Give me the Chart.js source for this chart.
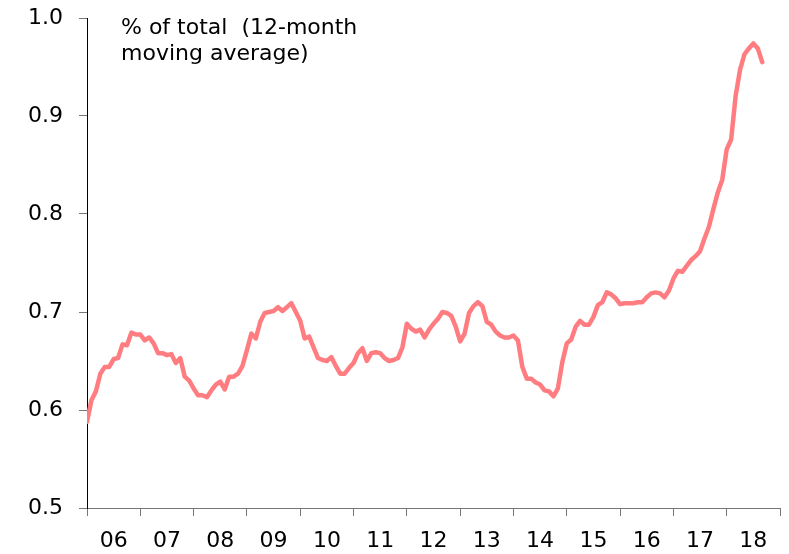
<!DOCTYPE html>
<html>
<head>
<meta charset="utf-8">
<script src="https://cdn.jsdelivr.net/npm/chart.js@4/dist/chart.umd.min.js"></script>
<style>
    body { margin: 0; background: #fff; }
    #wrap { position: relative; width: 789px; height: 554px; }
    #note {
        position: absolute; left: 121px; top: 14px;
        font-family: "DejaVu Sans"; font-size: 22px; line-height: 26px;
        color: #000; white-space: pre;
    }
</style>
</head>
<body>
<div id="wrap">
    <canvas id="chart" width="789" height="554"></canvas>
    <div id="note">% of total  (12-month
moving average)</div>
</div>
<script>
// monthly values, Jan 2006 onwards
const values = [
    0.588, 0.610, 0.619, 0.637, 0.644, 0.644, 0.652, 0.653, 0.667, 0.666, 0.679, 0.677,
    0.677, 0.671, 0.674, 0.668, 0.658, 0.658, 0.656, 0.657, 0.648, 0.653, 0.634, 0.630,
    0.622, 0.615, 0.615, 0.613, 0.620, 0.626, 0.629, 0.621, 0.634, 0.634, 0.637, 0.645,
    0.661, 0.678, 0.673, 0.690, 0.699, 0.700, 0.701, 0.705, 0.701, 0.705, 0.709, 0.700,
    0.691, 0.673, 0.675, 0.664, 0.653, 0.651, 0.650, 0.654, 0.645, 0.637, 0.637, 0.643,
    0.648, 0.658, 0.663, 0.650, 0.658, 0.659, 0.658, 0.653, 0.650, 0.651, 0.653, 0.664,
    0.688, 0.683, 0.680, 0.682, 0.674, 0.682, 0.688, 0.693, 0.700, 0.699, 0.696, 0.685,
    0.670, 0.678, 0.699, 0.706, 0.710, 0.706, 0.690, 0.687, 0.680, 0.676, 0.674, 0.674,
    0.676, 0.671, 0.644, 0.632, 0.632, 0.628, 0.626, 0.620, 0.619, 0.614, 0.622, 0.649,
    0.668, 0.672, 0.685, 0.691, 0.687, 0.687, 0.695, 0.707, 0.710, 0.720, 0.718, 0.714,
    0.708, 0.709, 0.709, 0.709, 0.710, 0.710, 0.715, 0.719, 0.720, 0.719, 0.715, 0.722,
    0.734, 0.742, 0.741, 0.747, 0.753, 0.757, 0.762, 0.775, 0.787, 0.805, 0.822, 0.835,
    0.866, 0.876, 0.920, 0.947, 0.963, 0.969, 0.974, 0.969, 0.955
];
const years = ['06', '07', '08', '09', '10', '11', '12', '13', '14', '15', '16', '17', '18'];
const yTicks = [0.5, 0.6, 0.7, 0.8, 0.9, 1.0];

const font = { family: 'DejaVu Sans', size: 22 };

new Chart(document.getElementById('chart'), {
    type: 'line',
    data: {
        datasets: [{
            data: values.map((v, i) => ({ x: i, y: v })),
            borderColor: '#FF7C80',
            borderWidth: 4.5,
            borderJoinStyle: 'round',
            borderCapStyle: 'round',
            pointRadius: 0,
            tension: 0,
        }]
    },
    options: {
        responsive: false,
        animation: false,
        layout: { padding: { left: 0, right: 9, top: 18, bottom: 0 } },
        plugins: { legend: { display: false }, tooltip: { enabled: false } },
        scales: {
            x: {
                type: 'linear',
                position: 'bottom',
                weight: 0,
                min: 0,
                max: years.length * 12,
                afterBuildTicks: s => { s.ticks = years.concat(['']).map((y, i) => ({ value: i * 12 })); },
                afterFit: s => { s.height = 8; s.paddingLeft = 0; s.paddingRight = 0; },
                ticks: { callback: () => '', autoSkip: false },
                grid: { drawOnChartArea: false, tickLength: 8, color: '#777' },
                border: { color: '#777' },
            },
            x2: {
                type: 'category',
                position: 'bottom',
                weight: 1,
                labels: years,
                offset: true,
                afterFit: s => { s.height = 38; s.paddingLeft = 0; s.paddingRight = 0; },
                grid: { display: false, drawTicks: false },
                border: { display: false },
                ticks: { font: font, color: '#000', padding: 12, maxRotation: 0, autoSkip: false },
            },
            y: {
                min: 0.5,
                max: 1.0,
                afterBuildTicks: s => { s.ticks = yTicks.map(v => ({ value: v })); },
                afterFit: s => { s.width = 87; s.paddingTop = 0; s.paddingBottom = 0; },
                ticks: { font: font, color: '#000', padding: 16, callback: v => v.toFixed(1) },
                grid: { drawOnChartArea: false, tickLength: 8, color: '#777' },
                border: { color: '#000' },
            }
        }
    }
});
</script>
</body>
</html>
